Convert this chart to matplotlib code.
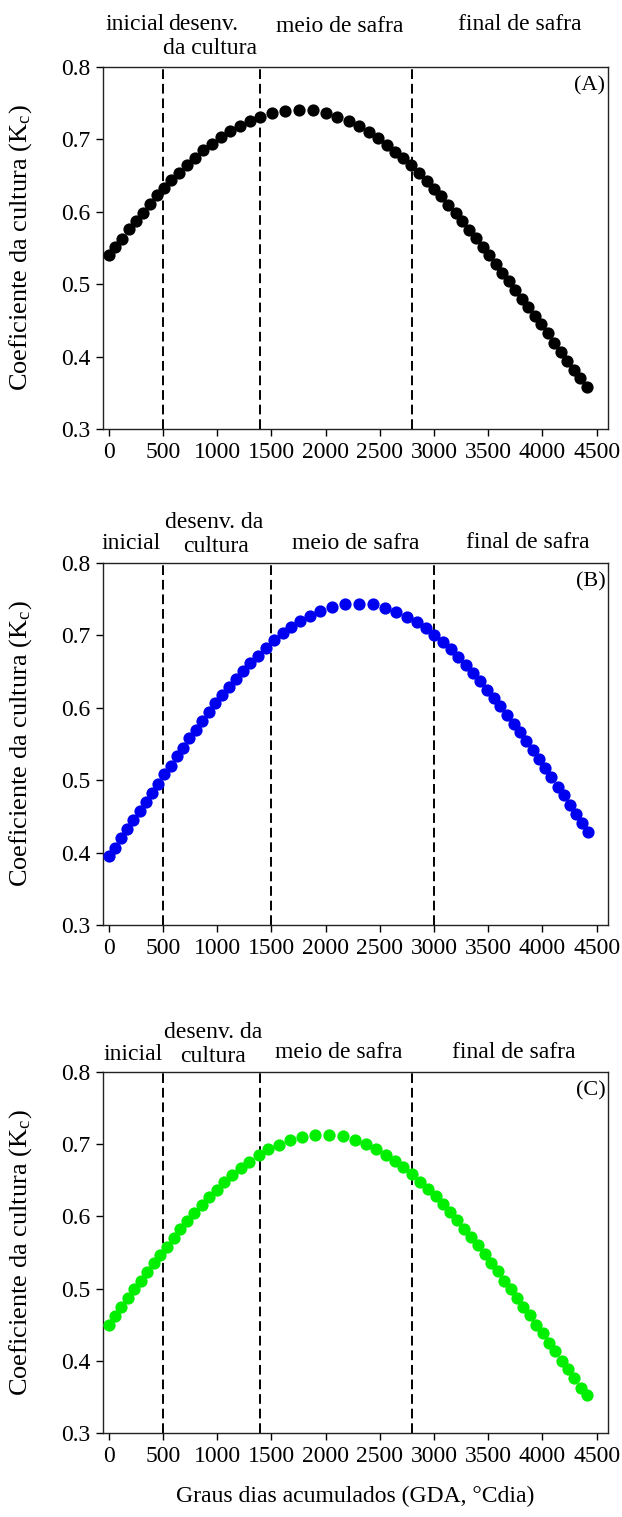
import matplotlib
matplotlib.use("Agg")
import matplotlib.pyplot as plt

plt.rcParams['font.family'] = ['Liberation Serif', 'DejaVu Serif']
plt.rcParams['mathtext.fontset'] = 'stix'

# ---- data ----
gda_a = [0, 55, 123, 188, 249, 317, 378, 449, 511, 578, 649, 720, 794, 874, 954,
         1034, 1120, 1209, 1301, 1400, 1504, 1624, 1753, 1882, 2002, 2107, 2212,
         2304, 2396, 2479, 2562, 2639, 2716, 2787, 2861, 2931, 2999, 3064, 3131,
         3199, 3260, 3322, 3386, 3448, 3507, 3568, 3626, 3688, 3746, 3808, 3869,
         3931, 3989, 4048, 4106, 4168, 4229, 4288, 4346, 4408]
kc_a = [0.540, 0.552, 0.563, 0.576, 0.587, 0.599, 0.611, 0.623, 0.633, 0.644,
        0.654, 0.665, 0.674, 0.685, 0.694, 0.703, 0.711, 0.719, 0.726, 0.731,
        0.736, 0.739, 0.741, 0.740, 0.736, 0.731, 0.725, 0.718, 0.710, 0.702,
        0.692, 0.683, 0.674, 0.664, 0.654, 0.643, 0.632, 0.622, 0.610, 0.599,
        0.587, 0.575, 0.564, 0.552, 0.540, 0.528, 0.516, 0.504, 0.492, 0.480,
        0.469, 0.456, 0.445, 0.432, 0.419, 0.407, 0.394, 0.382, 0.370, 0.358]

gda_b = [0, 55, 111, 169, 228, 286, 341, 397, 455, 514, 572, 627, 686, 744, 803,
         864, 923, 984, 1046, 1107, 1175, 1240, 1307, 1378, 1449, 1523, 1603,
         1682, 1765, 1855, 1953, 2061, 2175, 2304, 2433, 2547, 2649, 2747, 2839,
         2925, 3002, 3079, 3153, 3224, 3291, 3356, 3420, 3485, 3549, 3611, 3672,
         3734, 3792, 3851, 3912, 3971, 4026, 4082, 4140, 4196, 4254, 4309, 4368,
         4423]
kc_b = [0.395, 0.407, 0.420, 0.433, 0.445, 0.458, 0.470, 0.483, 0.495, 0.508,
        0.520, 0.533, 0.545, 0.558, 0.570, 0.582, 0.594, 0.606, 0.618, 0.629,
        0.640, 0.651, 0.662, 0.672, 0.683, 0.693, 0.703, 0.712, 0.720, 0.727,
        0.734, 0.739, 0.743, 0.744, 0.743, 0.738, 0.733, 0.726, 0.718, 0.710,
        0.700, 0.691, 0.681, 0.670, 0.659, 0.648, 0.637, 0.625, 0.613, 0.602,
        0.590, 0.578, 0.566, 0.554, 0.542, 0.529, 0.517, 0.504, 0.491, 0.479,
        0.466, 0.454, 0.441, 0.429]

gda_c = [0, 55, 117, 175, 234, 295, 354, 415, 477, 538, 600, 661, 726, 790, 858,
         926, 997, 1067, 1141, 1218, 1298, 1384, 1473, 1569, 1673, 1781, 1901,
         2033, 2159, 2270, 2372, 2464, 2553, 2636, 2716, 2793, 2867, 2941, 3015,
         3082, 3150, 3215, 3279, 3341, 3405, 3467, 3525, 3587, 3648, 3707, 3765,
         3824, 3885, 3943, 4002, 4060, 4118, 4177, 4235, 4294, 4352, 4411]
kc_c = [0.449, 0.462, 0.474, 0.487, 0.499, 0.511, 0.523, 0.535, 0.547, 0.558,
        0.570, 0.582, 0.593, 0.605, 0.616, 0.627, 0.637, 0.648, 0.658, 0.667,
        0.676, 0.685, 0.693, 0.699, 0.706, 0.710, 0.713, 0.713, 0.711, 0.706,
        0.700, 0.693, 0.685, 0.677, 0.668, 0.659, 0.648, 0.638, 0.628, 0.617,
        0.606, 0.595, 0.583, 0.572, 0.560, 0.548, 0.536, 0.524, 0.511, 0.499,
        0.487, 0.475, 0.463, 0.450, 0.438, 0.425, 0.413, 0.400, 0.388, 0.376,
        0.363, 0.352]

stage_lines_a = [500, 1400, 2800]
stage_lines_b = [500, 1500, 3000]
stage_lines_c = [500, 1400, 2800]

panel_labels = ['(A)', '(B)', '(C)']
colors = ['#000000', '#0000f0', '#00ee00']
x_ticks = [0, 500, 1000, 1500, 2000, 2500, 3000, 3500, 4000, 4500]
y_ticks = [0.3, 0.4, 0.5, 0.6, 0.7, 0.8]
ylabel = 'Coeficiente da cultura (K$_\\mathregular{c}$)'
xlabel = 'Graus dias acumulados (GDA, \u00b0Cdia)'

FS = 17
W, H = 622, 1517
fig = plt.figure(figsize=(W / 100, H / 100), dpi=100)

# axes boxes in pixel coordinates (left, top, right, bottom)
boxes = [(103, 67, 608, 429), (103, 563, 608, 925), (103, 1072, 608, 1433)]
datasets = [(gda_a, kc_a, stage_lines_a), (gda_b, kc_b, stage_lines_b),
            (gda_c, kc_c, stage_lines_c)]

axes = []
for i, ((l, t, r, b), (gx, kc, lines)) in enumerate(zip(boxes, datasets)):
    ax = fig.add_axes([l / W, 1 - b / H, (r - l) / W, (b - t) / H])
    axes.append(ax)
    for xv in lines:
        ax.axvline(xv, color='black', lw=1.4, ls=(0, (5, 2.5)), zorder=1)
    ax.plot(gx, kc, 'o', color=colors[i], ms=8.8, mec='none', zorder=3)
    ax.set_xlim(-52, 4604)
    ax.set_ylim(0.3, 0.8)
    ax.set_xticks(x_ticks)
    ax.set_yticks(y_ticks)
    ax.set_yticklabels([f'{v:.1f}' for v in y_ticks])
    ax.tick_params(direction='out', length=5, width=1, labelsize=FS, pad=4)
    for sp in ax.spines.values():
        sp.set_linewidth(1.0)
        sp.set_color('#222222')
    ax.set_ylabel(ylabel, fontsize=19)
    ax.yaxis.set_label_coords(-0.137, 0.5)
    ax.text(0.995, 0.975, panel_labels[i], transform=ax.transAxes,
            ha='right', va='top', fontsize=16)

axes[2].set_xlabel(xlabel, fontsize=FS, labelpad=14)

def ftext(x, y, s):
    fig.text(x / W, 1 - y / H, s, ha='center', va='center', fontsize=FS)

# Panel A headers
ftext(135, 24, 'inicial')
ftext(203, 24, 'desenv.')
ftext(210, 48, 'da cultura')
ftext(340, 26, 'meio de safra')
ftext(520, 25, 'final de safra')

# Panel B headers
ftext(131, 544, 'inicial')
ftext(214, 522, 'desenv. da')
ftext(216, 547, 'cultura')
ftext(356, 544, 'meio de safra')
ftext(528, 543, 'final de safra')

# Panel C headers
ftext(133, 1055, 'inicial')
ftext(213, 1032, 'desenv. da')
ftext(213, 1057, 'cultura')
ftext(339, 1053, 'meio de safra')
ftext(514, 1052, 'final de safra')

fig.savefig('out.png', dpi=100)
